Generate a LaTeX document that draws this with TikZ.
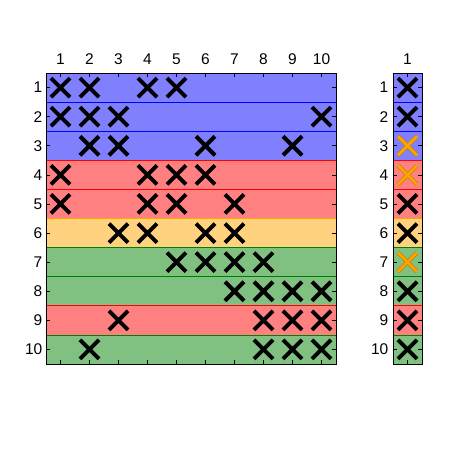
\documentclass[tikz,border=0pt]{standalone}
\usepackage{fontspec}
\setmainfont{Liberation Sans}
\begin{document}
\begin{tikzpicture}[x=1pt,y=-1pt]
\useasboundingbox (0,0) rectangle (450,450);
\definecolor{bfill}{HTML}{8080FF}\definecolor{bedge}{HTML}{0000FF}
\definecolor{rfill}{HTML}{FF8080}\definecolor{redge}{HTML}{FF0000}
\definecolor{ofill}{HTML}{FFD280}\definecolor{oedge}{HTML}{FFA500}
\definecolor{gfill}{HTML}{80C080}\definecolor{gedge}{HTML}{008000}
\definecolor{xor}{HTML}{FFA500}\definecolor{xoredge}{HTML}{C88000}
\tikzset{
  lbl/.style={font=\fontsize{15.5}{17}\selectfont, inner sep=0pt},
  xmk/.style={line width=3.9pt, black},
  xmko/.style={line width=3.9pt, xoredge},
  xmki/.style={line width=2.5pt, xor},
  tick/.style={line width=0.6pt, black},
  frame/.style={line width=1pt, black},
}
% rows: fill/edge
\foreach \i/\c in {1/b,2/b,3/b,4/r,5/r,6/o,7/g,8/g,9/r,10/g}{
  \pgfmathsetmacro{\ya}{73+29.1*(\i-1)}
  \pgfmathsetmacro{\yb}{73+29.1*\i}
  \draw[fill=\c fill, draw=\c edge, line width=0.8pt] (46,\ya) rectangle (336,\yb);
  \draw[fill=\c fill, draw=\c edge, line width=0.8pt] (393,\ya) rectangle (422,\yb);
}
% ticks and labels
\foreach \j in {1,...,10}{
  \pgfmathsetmacro{\xc}{46+29*(\j-0.5)}
  \draw[tick] (\xc,73) -- (\xc,77);
  \draw[tick] (\xc,364) -- (\xc,360);
  \node[lbl, anchor=base] (top\j) at (\xc,64) {\j};
  \pgfmathsetmacro{\yc}{73+29.1*(\j-0.5)}
  \draw[tick] (46,\yc) -- (50,\yc);
  \draw[tick] (336,\yc) -- (332,\yc);
  \draw[tick] (393,\yc) -- (397,\yc);
  \draw[tick] (422,\yc) -- (418,\yc);
  \node[lbl, anchor=east] (left\j) at (42.5,\yc) {\j};
  \node[lbl, anchor=east] (right\j) at (388.5,\yc) {\j};
}
\draw[tick] (407.5,73) -- (407.5,77);
\draw[tick] (407.5,364) -- (407.5,360);
\node[lbl, anchor=base] (topR) at (407.5,64) {1};
% frames
\draw[frame] (46,73) rectangle (336,364);
\draw[frame] (393,73) rectangle (422,364);
% X marks
\newcommand{\xmark}[3]{%
  \pgfmathsetmacro{\xx}{#1}\pgfmathsetmacro{\yy}{73+29.1*(#2-0.5)}%
  \draw[#3] (\xx-9.5,\yy-9.5) -- (\xx+9.5,\yy+9.5) (\xx-9.5,\yy+9.5) -- (\xx+9.5,\yy-9.5);}
\foreach \r/\cl in {1/{1,2,4,5},2/{1,2,3,10},3/{2,3,6,9},4/{1,4,5,6},5/{1,4,5,7},6/{3,4,6,7},7/{5,6,7,8},8/{7,8,9,10},9/{3,8,9,10},10/{2,8,9,10}}{
  \foreach \cc in \cl {
    \xmark{46+29*(\cc-0.5)}{\r}{xmk}
  }
}
\foreach \r in {1,2,5,6,8,9,10}{\xmark{407.5}{\r}{xmk}}
\foreach \r in {3,4,7}{\xmark{407.5}{\r}{xmko}\xmark{407.5}{\r}{xmki}}
\end{tikzpicture}
\end{document}
